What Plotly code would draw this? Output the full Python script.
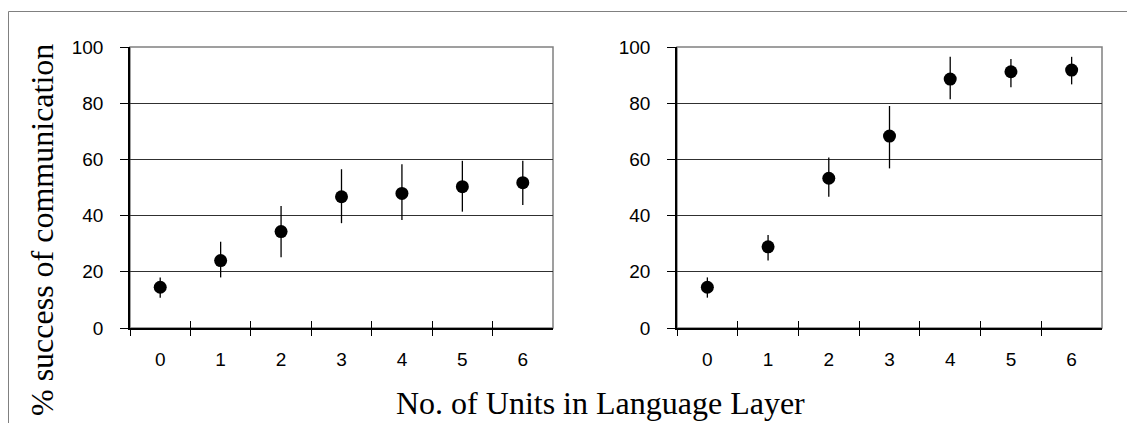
import plotly.graph_objects as go

W, H = 1127, 423

categories = ["0", "1", "2", "3", "4", "5", "6"]

left_mean = [14.5, 24.0, 34.3, 46.7, 47.9, 50.3, 51.7]
left_upper = [18.0, 30.7, 43.4, 56.5, 58.3, 59.5, 59.5]
left_lower = [10.8, 18.0, 25.2, 37.3, 38.4, 41.4, 43.8]

right_mean = [14.5, 28.9, 53.3, 68.3, 88.6, 91.2, 91.8]
right_upper = [18.0, 33.1, 60.7, 79.0, 96.5, 95.7, 96.5]
right_lower = [10.8, 24.0, 46.7, 56.8, 81.4, 85.7, 86.7]

y_ticks = [0, 20, 40, 60, 80, 100]

x_title = "No. of Units in Language Layer"
y_title = "% success of communication"

TICK_FONT = dict(family="Liberation Sans, Arial", size=19, color="black")
TITLE_FONT = dict(family="Liberation Serif, Times New Roman", size=32, color="black")


def px_x(p):
    return p / W


def px_y(p):
    return 1 - p / H


fig = go.Figure()

panels = [
    (left_mean, left_upper, left_lower, "x", "y", "x3"),
    (right_mean, right_upper, right_lower, "x2", "y2", "x4"),
]

for mean, up, lo, xa, ya, xin in panels:
    fig.add_trace(go.Scatter(
        x=categories, y=mean, mode="markers",
        marker=dict(symbol="circle", size=13, color="black"),
        error_y=dict(type="data", symmetric=False,
                     array=[u - m for u, m in zip(up, mean)],
                     arrayminus=[m - l for m, l in zip(mean, lo)],
                     color="black", thickness=1.3, width=0),
        xaxis=xa, yaxis=ya, showlegend=False, hoverinfo="skip",
    ))
    # invisible helper trace so the inside-tick overlay axis is drawn
    fig.add_trace(go.Scatter(
        x=categories, y=mean, mode="markers", marker=dict(opacity=0, size=1),
        xaxis=xin, yaxis=ya, showlegend=False, hoverinfo="skip",
    ))

domains = [(px_x(130), px_x(553)), (px_x(677), px_x(1102))]
ydom = [px_y(328), px_y(47)]

common_x = dict(
    type="category", categoryorder="array", categoryarray=categories,
    range=[-0.5, 6.5], tickson="boundaries", ticks="outside", ticklen=6,
    tickwidth=1, tickcolor="black", showline=True, linecolor="black",
    linewidth=1.5, showgrid=False, zeroline=False, tickfont=TICK_FONT,
    ticklabelstandoff=13, automargin=False, fixedrange=True,
)
common_y = dict(
    range=[0, 100], tickvals=y_ticks, ticks="outside", ticklen=8,
    tickwidth=1, tickcolor="black", showline=True, linecolor="black",
    linewidth=1.5, showgrid=True, gridcolor="#303030", gridwidth=1,
    zeroline=False, tickfont=TICK_FONT, ticklabelstandoff=13,
    automargin=False, fixedrange=True,
)
inside_x = dict(
    type="category", categoryorder="array", categoryarray=categories,
    range=[-0.5, 6.5], tickson="boundaries", ticks="inside", ticklen=7,
    tickwidth=1, tickcolor="black", showline=False, showgrid=False,
    zeroline=False, showticklabels=False, automargin=False, fixedrange=True,
)

fig.update_layout(
    width=W, height=H,
    margin=dict(l=0, r=0, t=0, b=0, pad=0),
    paper_bgcolor="white", plot_bgcolor="white",
    xaxis=dict(domain=domains[0], anchor="y", **common_x),
    yaxis=dict(domain=ydom, anchor="x", **common_y),
    xaxis2=dict(domain=domains[1], anchor="y2", **common_x),
    yaxis2=dict(domain=ydom, anchor="x2", **common_y),
    xaxis3=dict(domain=domains[0], anchor="y", overlaying="x", **inside_x),
    xaxis4=dict(domain=domains[1], anchor="y2", overlaying="x2", **inside_x),
)

# grey plot-area borders (top and right) and outer frame
for xr, yr in [("x domain", "y domain"), ("x2 domain", "y2 domain")]:
    fig.add_shape(type="rect", xref=xr, yref=yr, x0=0, x1=1, y0=0, y1=1,
                  line=dict(color="#808080", width=1.5), layer="below")

fig.add_shape(type="rect", xref="paper", yref="paper",
              x0=px_x(8.5), x1=1.05, y0=-0.1, y1=px_y(11.5),
              line=dict(color="#808080", width=1), layer="below")

fig.add_annotation(text=x_title, xref="paper", yref="paper",
                   x=px_x(600), y=px_y(403), xanchor="center", yanchor="middle",
                   showarrow=False, font=TITLE_FONT)
fig.add_annotation(text=y_title, xref="paper", yref="paper",
                   x=px_x(42), y=px_y(230), xanchor="center", yanchor="middle",
                   textangle=-90, showarrow=False, font=TITLE_FONT)

fig.write_html("out.html")
